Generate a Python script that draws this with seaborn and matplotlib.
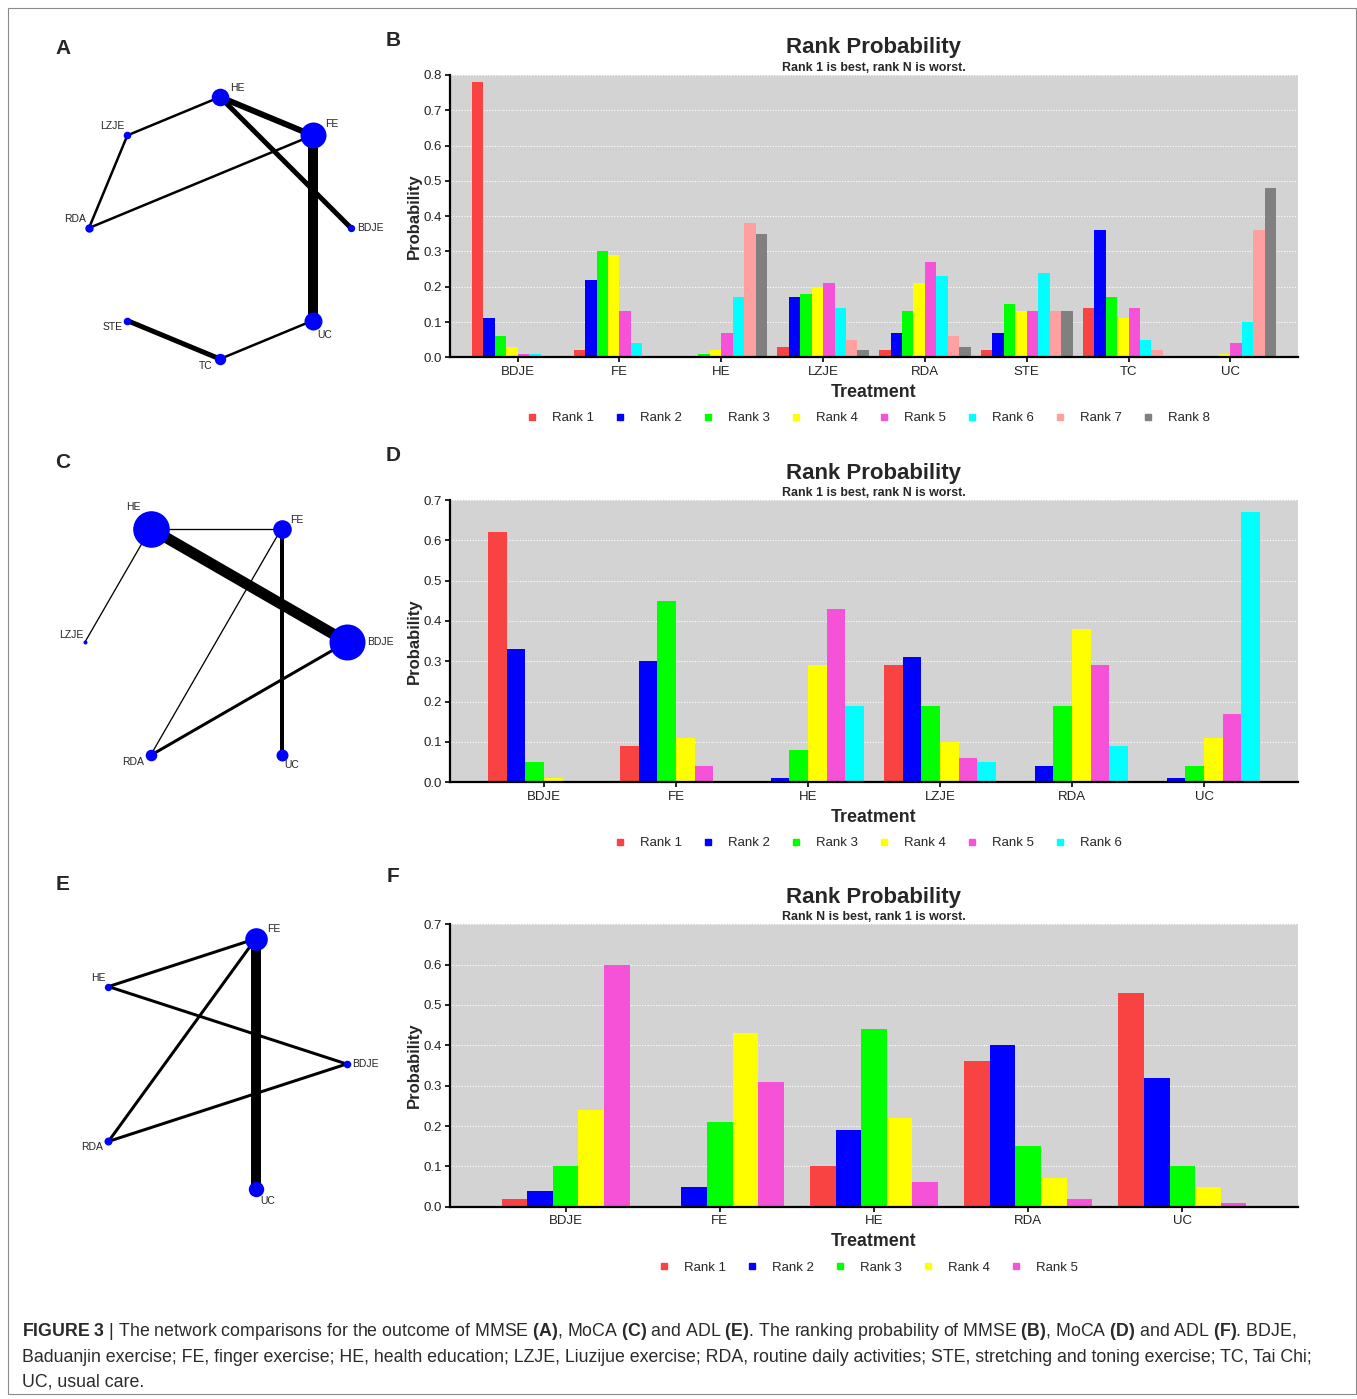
import numpy as np
import pandas as pd
import matplotlib
matplotlib.use("Agg")
import matplotlib.pyplot as plt
import seaborn as sns
from matplotlib.lines import Line2D
from matplotlib.patches import Rectangle

# ---------------- data ----------------
rank_colors = ["#F94242", "#0000FF", "#00FF00", "#FFFF00", "#F552D8", "#00FFFF", "#FFA0A0", "#808080"]

# Panel B: MMSE rank probabilities (rows: treatment, cols: rank 1..8)
mmse_treatments = ["BDJE", "FE", "HE", "LZJE", "RDA", "STE", "TC", "UC"]
mmse_probs = [
    [0.78, 0.11, 0.06, 0.03, 0.01, 0.01, 0.00, 0.00],
    [0.02, 0.22, 0.30, 0.29, 0.13, 0.04, 0.00, 0.00],
    [0.00, 0.00, 0.01, 0.02, 0.07, 0.17, 0.38, 0.35],
    [0.03, 0.17, 0.18, 0.20, 0.21, 0.14, 0.05, 0.02],
    [0.02, 0.07, 0.13, 0.21, 0.27, 0.23, 0.06, 0.03],
    [0.02, 0.07, 0.15, 0.13, 0.13, 0.24, 0.13, 0.13],
    [0.14, 0.36, 0.17, 0.11, 0.14, 0.05, 0.02, 0.00],
    [0.00, 0.00, 0.00, 0.01, 0.04, 0.10, 0.36, 0.48],
]

# Panel D: MoCA rank probabilities
moca_treatments = ["BDJE", "FE", "HE", "LZJE", "RDA", "UC"]
moca_probs = [
    [0.62, 0.33, 0.05, 0.01, 0.00, 0.00],
    [0.09, 0.30, 0.45, 0.11, 0.04, 0.00],
    [0.00, 0.01, 0.08, 0.29, 0.43, 0.19],
    [0.29, 0.31, 0.19, 0.10, 0.06, 0.05],
    [0.00, 0.04, 0.19, 0.38, 0.29, 0.09],
    [0.00, 0.01, 0.04, 0.11, 0.17, 0.67],
]

# Panel F: ADL rank probabilities
adl_treatments = ["BDJE", "FE", "HE", "RDA", "UC"]
adl_probs = [
    [0.02, 0.04, 0.10, 0.24, 0.60],
    [0.00, 0.05, 0.21, 0.43, 0.31],
    [0.10, 0.19, 0.44, 0.22, 0.06],
    [0.36, 0.40, 0.15, 0.07, 0.02],
    [0.53, 0.32, 0.10, 0.05, 0.01],
]

# Networks (node order around the circle, node radius in px, edges, edge widths in px)
net_a_nodes = ["HE", "FE", "BDJE", "UC", "TC", "STE", "RDA", "LZJE"]
net_a_size = [8.8, 13.0, 3.7, 9.0, 5.7, 3.8, 4.2, 3.8]
net_a_edges = [("HE", "LZJE"), ("LZJE", "RDA"), ("RDA", "FE"), ("HE", "FE"),
               ("HE", "BDJE"), ("FE", "UC"), ("UC", "TC"), ("TC", "STE")]
net_a_width = [2.5, 2.5, 2.5, 6.0, 5.0, 10.0, 2.5, 5.0]

net_c_nodes = ["HE", "FE", "BDJE", "UC", "RDA", "LZJE"]
net_c_size = [18.3, 9.3, 18.0, 6.0, 5.8, 2.0]
net_c_edges = [("HE", "FE"), ("HE", "BDJE"), ("HE", "LZJE"), ("FE", "RDA"),
               ("FE", "UC"), ("BDJE", "RDA")]
net_c_width = [1.3, 11.0, 1.3, 1.3, 4.0, 3.0]

net_e_nodes = ["FE", "BDJE", "UC", "RDA", "HE"]
net_e_size = [11.3, 3.8, 7.7, 4.0, 3.7]
net_e_edges = [("FE", "HE"), ("FE", "RDA"), ("FE", "UC"), ("HE", "BDJE"), ("RDA", "BDJE")]
net_e_width = [3.0, 3.0, 10.0, 3.0, 3.0]

# ---------------- style ----------------
sns.set_style("ticks")
plt.rcParams["font.family"] = ["Liberation Sans", "DejaVu Sans"]
plt.rcParams["mathtext.fontset"] = "custom"
plt.rcParams["mathtext.rm"] = "Liberation Sans"
plt.rcParams["mathtext.bf"] = "Liberation Sans:bold"
plt.rcParams["mathtext.it"] = "Liberation Sans:italic"

W, H = 1357, 1399
fig = plt.figure(figsize=(W / 100, H / 100), dpi=100)
fig.patch.set_facecolor("white")


def px_rect(left, top, right, bottom):
    return [left / W, 1 - bottom / H, (right - left) / W, (bottom - top) / H]


def ftext(x, y, s, **kw):
    return fig.text(x / W, 1 - y / H, s, **kw)


def bar_panel(top, bottom, treatments, probs, ymax, subtitle, width, xpad):
    ax = fig.add_axes(px_rect(450, top, 1298, bottom))
    n = len(probs[0])
    rows = [(t, f"Rank {k + 1}", probs[i][k]) for i, t in enumerate(treatments) for k in range(n)]
    df = pd.DataFrame(rows, columns=["Treatment", "Rank", "Probability"])
    sns.barplot(data=df, x="Treatment", y="Probability", hue="Rank",
                palette=rank_colors[:n], width=width, saturation=1,
                linewidth=0, errorbar=None, legend=False, ax=ax)
    ax.set_xlim(-xpad, len(treatments) - 1 + xpad)
    ax.set_ylim(0, ymax)
    ticks = np.round(np.arange(0, ymax + 1e-6, 0.1), 1)
    ax.set_yticks(ticks)
    ax.set_yticklabels([f"{v:.1f}" for v in ticks])
    ax.set_facecolor("#D3D3D3")
    ax.set_axisbelow(True)
    ax.yaxis.grid(True, color="white", linestyle=(0, (1, 1.5)), linewidth=0.8)
    ax.xaxis.grid(False)
    for s in ["top", "right"]:
        ax.spines[s].set_visible(False)
    for s in ["left", "bottom"]:
        ax.spines[s].set_linewidth(1.6)
        ax.spines[s].set_color("black")
    ax.tick_params(axis="both", labelsize=9.5, length=3.5, width=1.2, pad=2.5,
                   colors="black", labelcolor="#222222")
    ax.set_ylabel("Probability", fontsize=12, fontweight="bold", labelpad=1)
    ax.set_xlabel("Treatment", fontsize=12.8, fontweight="bold", labelpad=4.5)
    h = bottom - top
    ftext(874, top - 27, "Rank Probability", fontsize=16, fontweight="bold",
          ha="center", va="center")
    ftext(874, top - 7, subtitle, fontsize=8.9, fontweight="bold", ha="center", va="center")
    handles = [Line2D([], [], marker="s", linestyle="", color=rank_colors[k], markersize=5)
               for k in range(n)]
    labels = [f"Rank {k + 1}" for k in range(n)]
    ax.legend(handles, labels, loc="center", bbox_to_anchor=(0.4925, -(61 / h)),
              ncol=n, frameon=False, fontsize=9.5, handletextpad=1.0,
              columnspacing=1.5, handlelength=1.0)
    return ax


def network_panel(cx, cy, radius, nodes, sizes, edges, widths, start_deg, offsets):
    half = 1.5
    size = 2 * half * radius
    ax = fig.add_axes(px_rect(cx - size / 2, cy - size / 2, cx + size / 2, cy + size / 2))
    ax.set_xlim(-half, half)
    ax.set_ylim(-half, half)
    ax.axis("off")
    ax.patch.set_alpha(0)
    n = len(nodes)
    ang = np.deg2rad(start_deg - 360 * np.arange(n) / n)
    pos = {nd: (np.cos(a), np.sin(a)) for nd, a in zip(nodes, ang)}
    for (a, b), w in zip(edges, widths):
        ax.plot([pos[a][0], pos[b][0]], [pos[a][1], pos[b][1]], color="black",
                lw=w * 0.72, solid_capstyle="butt", zorder=1)
    for nd, r in zip(nodes, sizes):
        ax.scatter([pos[nd][0]], [pos[nd][1]], s=(2 * r * 0.72) ** 2, color="#0000FF",
                   linewidths=0, zorder=2)
    for nd, (dx, dy) in zip(nodes, offsets):
        ax.annotate(nd, pos[nd], xytext=(dx, -dy), textcoords="offset pixels",
                    ha="center", va="center", fontsize=7.5, color="#222222")
    return ax


# ---------------- bar charts ----------------
bar_panel(75, 357.3, mmse_treatments, mmse_probs, 0.8,
          "Rank 1 is best, rank N is worst.", 0.9, 0.665)
bar_panel(500, 782.3, moca_treatments, moca_probs, 0.7,
          "Rank 1 is best, rank N is worst.", 0.85, 0.712)
bar_panel(924.3, 1206.7, adl_treatments, adl_probs, 0.7,
          "Rank N is best, rank 1 is worst.", 0.83, 0.749)

# ---------------- networks ----------------
network_panel(220, 228, 131, net_a_nodes, net_a_size, net_a_edges, net_a_width, 90,
              [(17, -9), (19, -11), (19, 0), (12, 14), (-14, 7), (-15, 6), (-14, -9), (-15, -9)])
network_panel(216, 642, 131, net_c_nodes, net_c_size, net_c_edges, net_c_width, 120,
              [(-17, -22), (15, -9), (33, 0), (10, 10), (-17, 7), (-14, -7)])
network_panel(215, 1064, 131.7, net_e_nodes, net_e_size, net_e_edges, net_e_width, 72,
              [(18, -10), (19, 0), (12, 12), (-16, 6), (-10, -9)])

# ---------------- panel letters ----------------
for letter, x, y in [("A", 63, 49), ("B", 393, 41), ("C", 63, 463),
                     ("D", 393, 456), ("E", 63, 885), ("F", 393, 877)]:
    ftext(x, y, letter, fontsize=15, fontweight="bold", ha="center", va="center")

# ---------------- caption ----------------
cap_lines = [
    r"$\mathbf{FIGURE\ 3}$ | The network comparisons for the outcome of MMSE $\mathbf{(A)}$, MoCA $\mathbf{(C)}$ and ADL $\mathbf{(E)}$. The ranking probability of MMSE $\mathbf{(B)}$, MoCA $\mathbf{(D)}$ and ADL $\mathbf{(F)}$. BDJE,",
    "Baduanjin exercise; FE, finger exercise; HE, health education; LZJE, Liuzijue exercise; RDA, routine daily activities; STE, stretching and toning exercise; TC, Tai Chi;",
    "UC, usual care.",
]
cap_texts = []
for i, s in enumerate(cap_lines):
    cap_texts.append(ftext(22, 1332 + 25 * i, s, fontsize=12.5, ha="left", va="center",
                           color="#2a2a2a"))
renderer = fig.canvas.get_renderer()
w2 = cap_texts[1].get_window_extent(renderer).width
scale = 1296 / w2
for t in cap_texts:
    t.set_fontsize(12.5 * scale)

# border
fig.add_artist(Rectangle((8 / W, 1 - 1394 / H), (1348 / W), (1386 / H),
                         transform=fig.transFigure, fill=False, edgecolor="#8a8a8a", lw=0.8))

fig.savefig("out.png", dpi=100)
